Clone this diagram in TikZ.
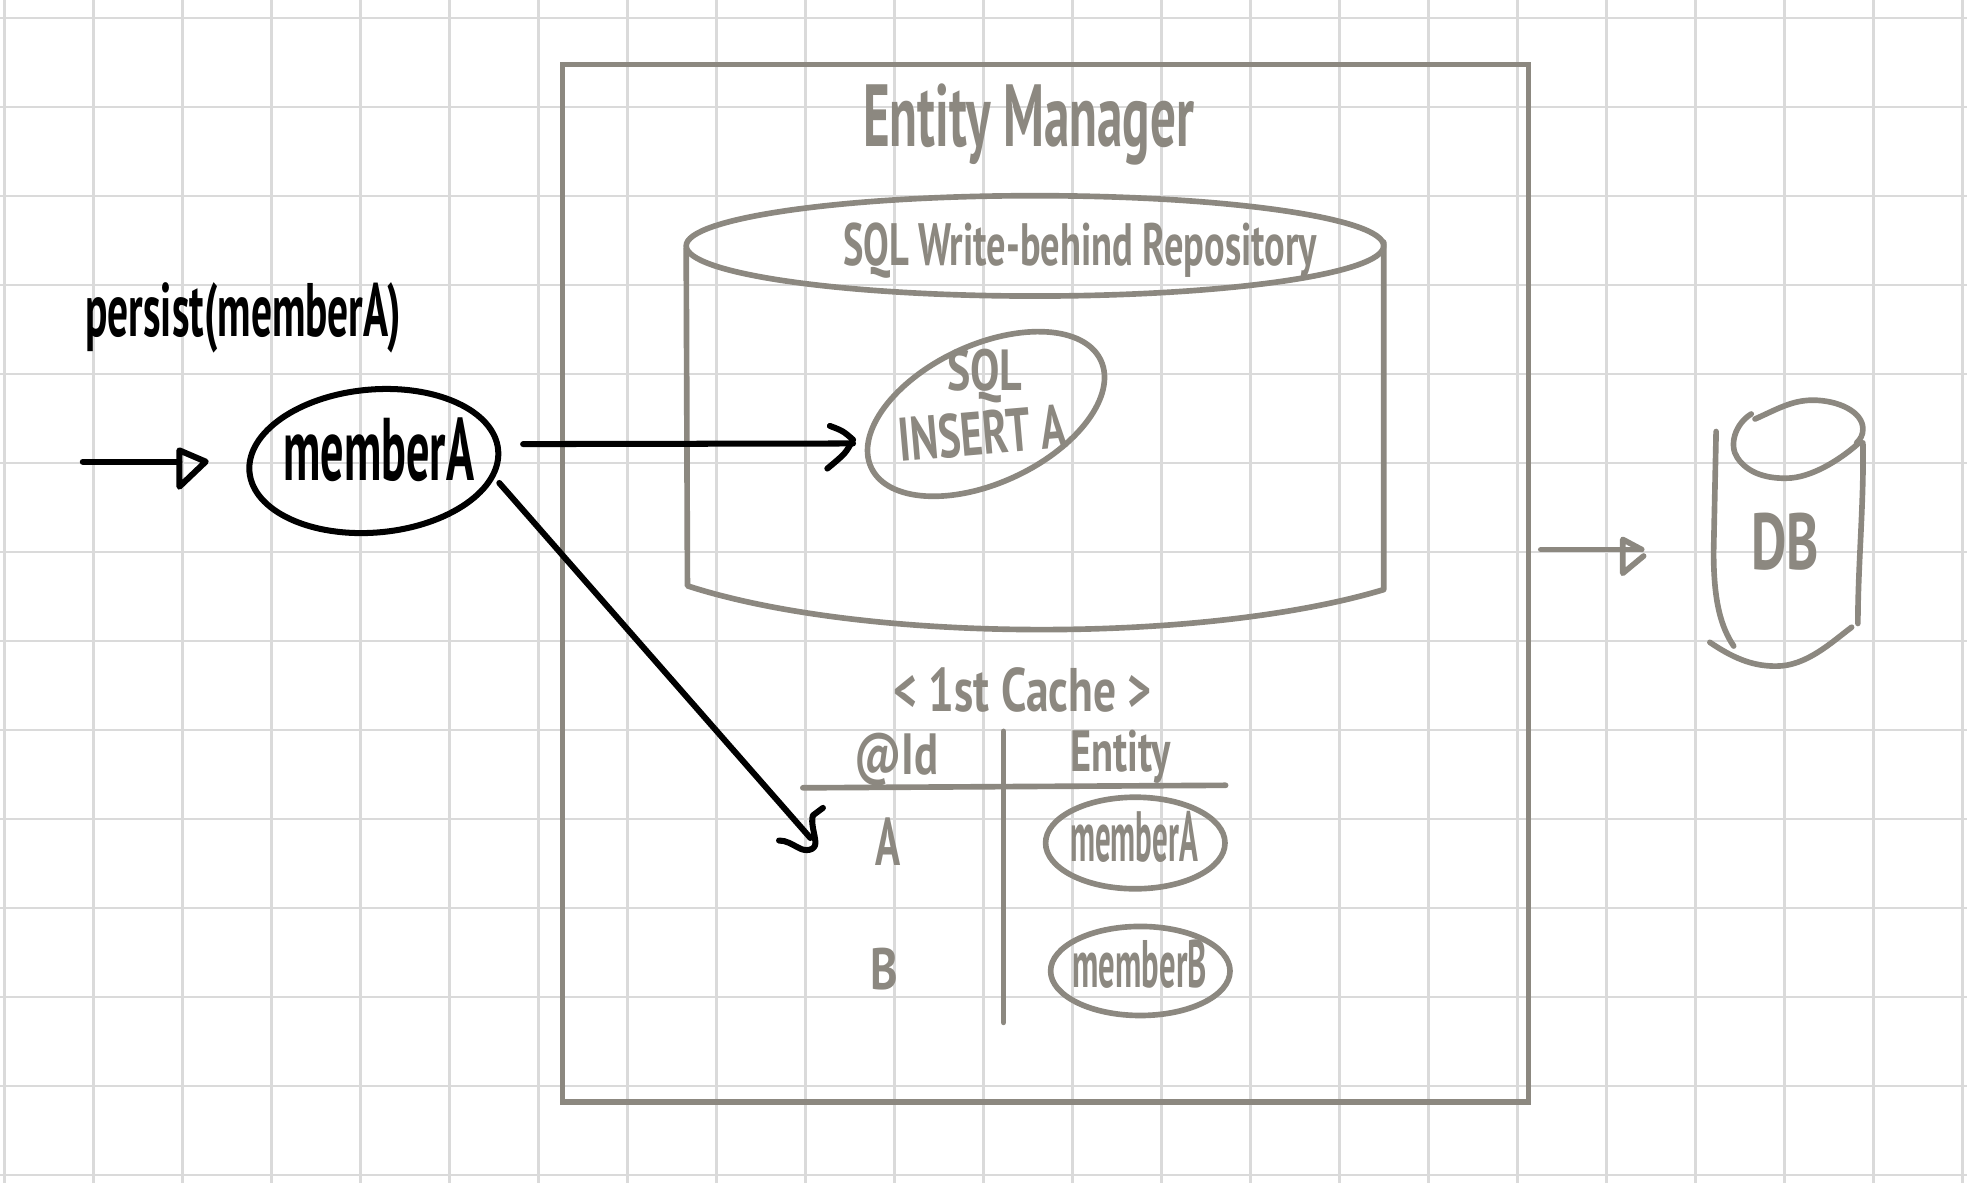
\documentclass[tikz,border=0pt]{standalone}
\usepackage{fontspec}
\setmainfont{PT Sans}
\usepackage{graphicx}
\usetikzlibrary{shapes.geometric,calc}
\definecolor{pen}{RGB}{140,136,128}
\definecolor{gridc}{RGB}{218,218,218}
\newcommand{\hw}[3]{\resizebox{#1pt}{#2pt}{\bfseries #3}}
\begin{document}
\begin{tikzpicture}[x=1pt,y=-1pt,
  gridline/.style={gridc,line width=2.2pt},
  gline/.style={pen,line width=4.5pt,line cap=round,line join=round},
  bline/.style={black,line width=4.8pt,line cap=round,line join=round},
  gtxt/.style={inner sep=0pt,outer sep=0pt,text=pen,anchor=base west},
  btxt/.style={inner sep=0pt,outer sep=0pt,text=black,anchor=base west},
  gell/.style={ellipse,draw=pen,line width=4.5pt,inner sep=0pt},
  bell/.style={ellipse,draw=black,line width=4.8pt,inner sep=0pt},
]
\useasboundingbox (0,0) rectangle (1568,943);
\fill[white] (0,0) rectangle (1568,943);
\foreach \i in {0,...,22} \draw[gridline] ({3.7+70.95*\i},0) -- ({3.7+70.95*\i},943);
\foreach \j in {0,...,13} \draw[gridline] (0,{14.3+70.95*\j}) -- (1568,{14.3+70.95*\j});

% Entity Manager frame
\node[draw=pen,line width=4.5pt,minimum width=770pt,minimum height=827pt,inner sep=0pt] (em) at (833.5,465) {};
\node[gtxt] (tEM) at (688,117) {\hw{264}{50}{Entity Manager}};

% SQL write-behind repository cylinder
\draw[gline] (825,196) ellipse [x radius=278, y radius=40];
\draw[gline] (547,198) -- (548,467) .. controls (690,513) and (960,513) .. (1103,470) -- (1103,193);
\node[gtxt] (tRepo) at (672,212) {\hw{378}{34}{SQL Write-behind Repository}};

\node[gell, minimum width=202pt, minimum height=110pt, rotate=25] (sqlE) at (786,330) {};
\node[gtxt] (tSQL) at (755,311) {\hw{60}{33}{SQL}};
\node[gtxt, rotate=5] (tIns) at (718,368) {\hw{134}{35}{INSERT A}};

% persist
\node[btxt] (tPersist) at (68,268) {\hw{252}{43}{persist(memberA)}};
\node[bell, minimum width=199pt, minimum height=114pt, rotate=5] (memA) at (298,367.5) {};
\node[btxt] (tMemA) at (226,383) {\hw{152}{50}{memberA}};

% arrow into memberA
\coordinate (in0) at (66,368);
\coordinate (h1) at ($(memA.center)+(-134,0.5)$);
\draw[bline] (in0) -- ($(h1)+(-21,0)$);
\draw[bline] ($(h1)+(-21,-9)$) -- (h1) -- ($(h1)+(-21,20)$) -- cycle;

% arrow memberA -> SQL INSERT A
\coordinate (h3) at ($(sqlE.center)+(-106,23.5)$);
\draw[bline] ($(memA.center)+(119,-13.5)$) -- (h3);
\draw[bline] ($(h3)+(-18.5,-14)$) .. controls ($(h3)+(-8,-10)$) .. ($(h3)+(0,-3)$) .. controls ($(h3)+(-6,8)$) .. ($(h3)+(-20.5,20)$);

% arrow memberA -> 1st cache
\coordinate (tipA) at (646,668);
\draw[bline] ($(memA.center)+(100,17.5)$) -- (tipA);
\draw[bline] ($(tipA)+(10,-24)$) -- ($(tipA)+(2,-18)$) .. controls ($(tipA)+(0,-12)$) and ($(tipA)+(4,-2)$) .. ($(tipA)+(4,4)$) .. controls ($(tipA)+(4,10)$) and ($(tipA)+(-4,11)$) .. ($(tipA)+(-9,8)$) .. controls ($(tipA)+(-15,5)$) and ($(tipA)+(-19,2)$) .. ($(tipA)+(-25,2)$);

% 1st cache
\node[gtxt] (tCache) at (712,567) {\hw{206}{35}{< 1st Cache >}};
\node[gtxt] (tId) at (681,617) {\hw{67}{33}{@Id}};
\node[gtxt] (tEnt) at (853,615) {\hw{80}{33}{Entity}};
\draw[gline] (640,628) -- (977,626);
\draw[gline] (800,583) -- (800,815);
\node[gtxt] (tA) at (698,690) {\hw{20}{38}{A}};
\node[gell, minimum width=143pt, minimum height=73pt] (cA) at (905,672) {};
\node[gtxt] (tcA) at (853,687) {\hw{102}{40}{memberA}};
\node[gtxt] (tB) at (694,789) {\hw{22}{33}{B}};
\node[gell, minimum width=143pt, minimum height=71pt] (cB) at (909,774) {};
\node[gtxt] (tcB) at (855,787) {\hw{107}{38}{memberB}};

% arrow Entity Manager -> DB
\coordinate (dbL) at (1367,437);
\coordinate (h2) at ($(dbL)+(-58.4,1)$);
\draw[gline] ($(em.east)+(7.5,-27)$) -- (h2);
\draw[gline] (h2) -- ($(h2)+(-15,-8)$) -- ($(h2)+(-15,19)$) -- ($(h2)+(1.6,5.2)$);

% DB
\draw[gline] (1368,344) -- (1366,440) .. controls (1366,480) and (1372,500) .. (1382,515);
\draw[gline] (1363,512) .. controls (1385,527) and (1400,531) .. (1416,531) .. controls (1440,531) and (1460,512) .. (1476,500);
\draw[gline] (1485,353) .. controls (1486,400) and (1481,450) .. (1481,497);
\draw[gline] (1396,330) .. controls (1383,338) and (1378,355) .. (1385,365) .. controls (1395,380) and (1415,382) .. (1428,381) .. controls (1448,379) and (1470,364) .. (1483,352);
\draw[gline] (1399,334) .. controls (1415,327) and (1428,319) .. (1445,319) .. controls (1465,319) and (1485,328) .. (1485,342) .. controls (1485,347) and (1483,350) .. (1480,353);
\node[gtxt] (tDB) at (1396,454) {\hw{54}{45}{DB}};
\end{tikzpicture}
\end{document}
